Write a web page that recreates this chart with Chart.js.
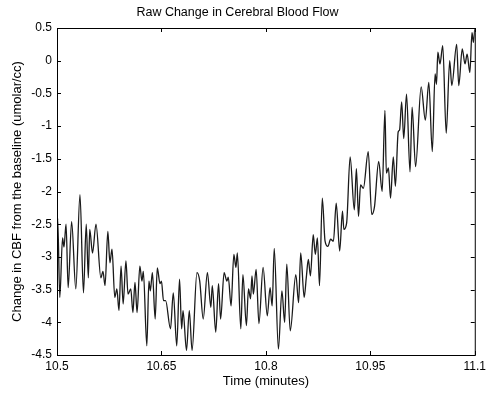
<!DOCTYPE html>
<html>
<head>
<meta charset="utf-8">
<script src="https://cdn.jsdelivr.net/npm/chart.js@4"></script>
<style>
  body { margin: 0; background: #fff; }
  canvas { display: block; }
</style>
</head>
<body>
<canvas id="myChart" width="490" height="395"></canvas>
<script>
// time in minutes
const times = [
    10.500, 10.501, 10.504, 10.508, 10.510, 10.513, 10.516, 10.521, 10.527, 10.533,
    10.538, 10.542, 10.545, 10.547, 10.551, 10.556, 10.563, 10.566, 10.569, 10.573,
    10.576, 10.579, 10.583, 10.586, 10.589, 10.592, 10.595, 10.599, 10.602, 10.606,
    10.609, 10.612, 10.615, 10.619, 10.622, 10.624, 10.629, 10.632, 10.634, 10.637,
    10.641, 10.644, 10.648, 10.650, 10.653, 10.656, 10.663, 10.667, 10.672, 10.676,
    10.679, 10.681, 10.686, 10.690, 10.694, 10.701, 10.705, 10.710, 10.716, 10.721,
    10.723, 10.728, 10.732, 10.735, 10.740, 10.744, 10.746, 10.750, 10.754, 10.757,
    10.759, 10.764, 10.767, 10.772, 10.775, 10.778, 10.780, 10.782, 10.786, 10.790,
    10.796, 10.802, 10.806, 10.809, 10.812, 10.818, 10.823, 10.827, 10.830, 10.835,
    10.843, 10.847, 10.850, 10.855, 10.858, 10.861, 10.864, 10.868, 10.871, 10.874,
    10.877, 10.881, 10.885, 10.889, 10.893, 10.897, 10.901, 10.906, 10.910, 10.912,
    10.916, 10.921, 10.927, 10.930, 10.933, 10.936, 10.940, 10.947, 10.952, 10.956,
    10.962, 10.967, 10.971, 10.973, 10.976, 10.979, 10.983, 10.986, 10.990, 10.992,
    10.995, 10.998, 11.002, 11.007, 11.010, 11.015, 11.023, 11.029, 11.034, 11.039,
    11.043, 11.045, 11.047, 11.050, 11.054, 11.059, 11.064, 11.067, 11.074, 11.077,
    11.082, 11.086, 11.089, 11.093, 11.096, 11.098, 11.100
];

// change in CBF (umolar/cc)
const cbf = [
    -2.76, -2.41, -3.62, -2.71, -2.85, -2.50, -3.47, -2.46, -3.49, -2.05,
    -3.55, -2.50, -3.32, -2.58, -2.94, -2.50, -3.32, -3.22, -3.44, -2.61,
    -3.09, -2.88, -3.62, -3.49, -3.82, -3.14, -3.72, -3.06, -3.57, -3.49,
    -3.85, -3.39, -3.85, -3.14, -3.37, -3.22, -4.36, -3.37, -3.52, -3.24,
    -3.95, -3.17, -3.41, -3.37, -3.67, -3.67, -4.10, -3.55, -4.36, -3.34,
    -4.10, -3.82, -4.43, -3.82, -4.43, -3.24, -3.37, -3.95, -3.24, -3.77,
    -3.44, -4.15, -3.41, -3.95, -3.24, -3.37, -3.31, -3.75, -2.96, -3.16,
    -2.94, -4.10, -3.27, -4.05, -3.49, -3.64, -3.29, -3.57, -3.19, -4.02,
    -3.16, -3.90, -3.47, -3.75, -2.87, -4.41, -3.52, -4.00, -3.11, -4.13,
    -3.27, -3.70, -2.94, -3.62, -3.32, -3.04, -3.29, -2.66, -2.96, -2.71,
    -3.44, -2.10, -2.76, -2.84, -2.73, -2.76, -2.18, -2.91, -2.30, -2.58,
    -2.48, -1.47, -2.28, -1.65, -2.38, -1.90, -1.95, -1.39, -2.35, -2.23,
    -1.54, -2.00, -0.76, -1.72, -1.64, -2.10, -1.47, -1.92, -1.09, -1.06,
    -0.63, -1.19, -0.51, -1.70, -0.71, -1.62, -0.40, -0.91, -0.33, -1.39,
    -0.20, -0.36, 0.13, -0.05, 0.23, -1.11, 0.00, -0.38, 0.25, -0.38,
    0.18, -0.05, 0.10, -0.18, 0.43, 0.28, 0.48
];

const xTicks = [10.5, 10.65, 10.8, 10.95, 11.1];
const yTicks = [-4.5, -4, -3.5, -3, -2.5, -2, -1.5, -1, -0.5, 0, 0.5];

const points = times.map((t, i) => ({ x: t, y: cbf[i] }));
const fontFamily = '"Liberation Sans", Arial, Helvetica, sans-serif';

// box round the plot and inward tick marks, matlab style
const boxPlugin = {
    id: 'box',
    afterDraw(chart) {
        const c = chart.ctx, a = chart.chartArea;
        const xs = chart.scales.x, ys = chart.scales.y;
        c.save();
        c.strokeStyle = '#000';
        c.lineWidth = 1;
        c.strokeRect(a.left + 0.5, a.top + 0.5, a.right - a.left, a.bottom - a.top);
        c.beginPath();
        xTicks.forEach(v => {
            let px = Math.round(xs.getPixelForValue(v)) + 0.5;
            c.moveTo(px, a.bottom); c.lineTo(px, a.bottom - 4);
            c.moveTo(px, a.top); c.lineTo(px, a.top + 4);
        });
        yTicks.forEach(v => {
            let py = Math.round(ys.getPixelForValue(v)) + 0.5;
            c.moveTo(a.left, py); c.lineTo(a.left + 4, py);
            c.moveTo(a.right, py); c.lineTo(a.right - 4, py);
        });
        c.stroke();
        c.restore();
    }
};

new Chart(document.getElementById('myChart'), {
    type: 'scatter',
    data: {
        datasets: [{
            data: points,
            showLine: true,
            borderColor: '#1a1a1a',
            borderWidth: 1.3,
            pointRadius: 0,
            cubicInterpolationMode: 'monotone'
        }]
    },
    options: {
        responsive: false,
        animation: false,
        layout: { padding: { left: 0, right: 15, top: 0, bottom: 0 } },
        plugins: {
            legend: { display: false },
            tooltip: { enabled: false },
            title: {
                display: true,
                text: 'Raw Change in Cerebral Blood Flow',
                color: '#000',
                font: { family: fontFamily, size: 12.5, weight: 'normal' },
                padding: { top: 5, bottom: 8 }
            }
        },
        scales: {
            x: {
                type: 'linear',
                min: 10.5,
                max: 11.1,
                afterBuildTicks: s => { s.ticks = xTicks.map(v => ({ value: v })); },
                afterFit: s => { s.height = 40; },
                grid: { display: false, drawTicks: false },
                border: { display: false },
                ticks: {
                    padding: 4,
                    color: '#000',
                    font: { family: fontFamily, size: 12 },
                    callback: v => String(v)
                },
                title: {
                    display: true,
                    text: 'Time (minutes)',
                    color: '#000',
                    font: { family: fontFamily, size: 13 },
                    padding: { top: 0, bottom: 6 }
                }
            },
            y: {
                min: -4.5,
                max: 0.5,
                afterBuildTicks: s => { s.ticks = yTicks.map(v => ({ value: v })); },
                afterFit: s => { s.width = 57; },
                grid: { display: false, drawTicks: false },
                border: { display: false },
                ticks: {
                    padding: 5,
                    color: '#000',
                    font: { family: fontFamily, size: 12 },
                    callback: v => String(v)
                },
                title: {
                    display: true,
                    text: 'Change in CBF from the baseline (umolar/cc)',
                    color: '#000',
                    font: { family: fontFamily, size: 13 },
                    padding: { top: 10, bottom: 0 }
                }
            }
        }
    },
    plugins: [boxPlugin]
});
</script>
</body>
</html>
